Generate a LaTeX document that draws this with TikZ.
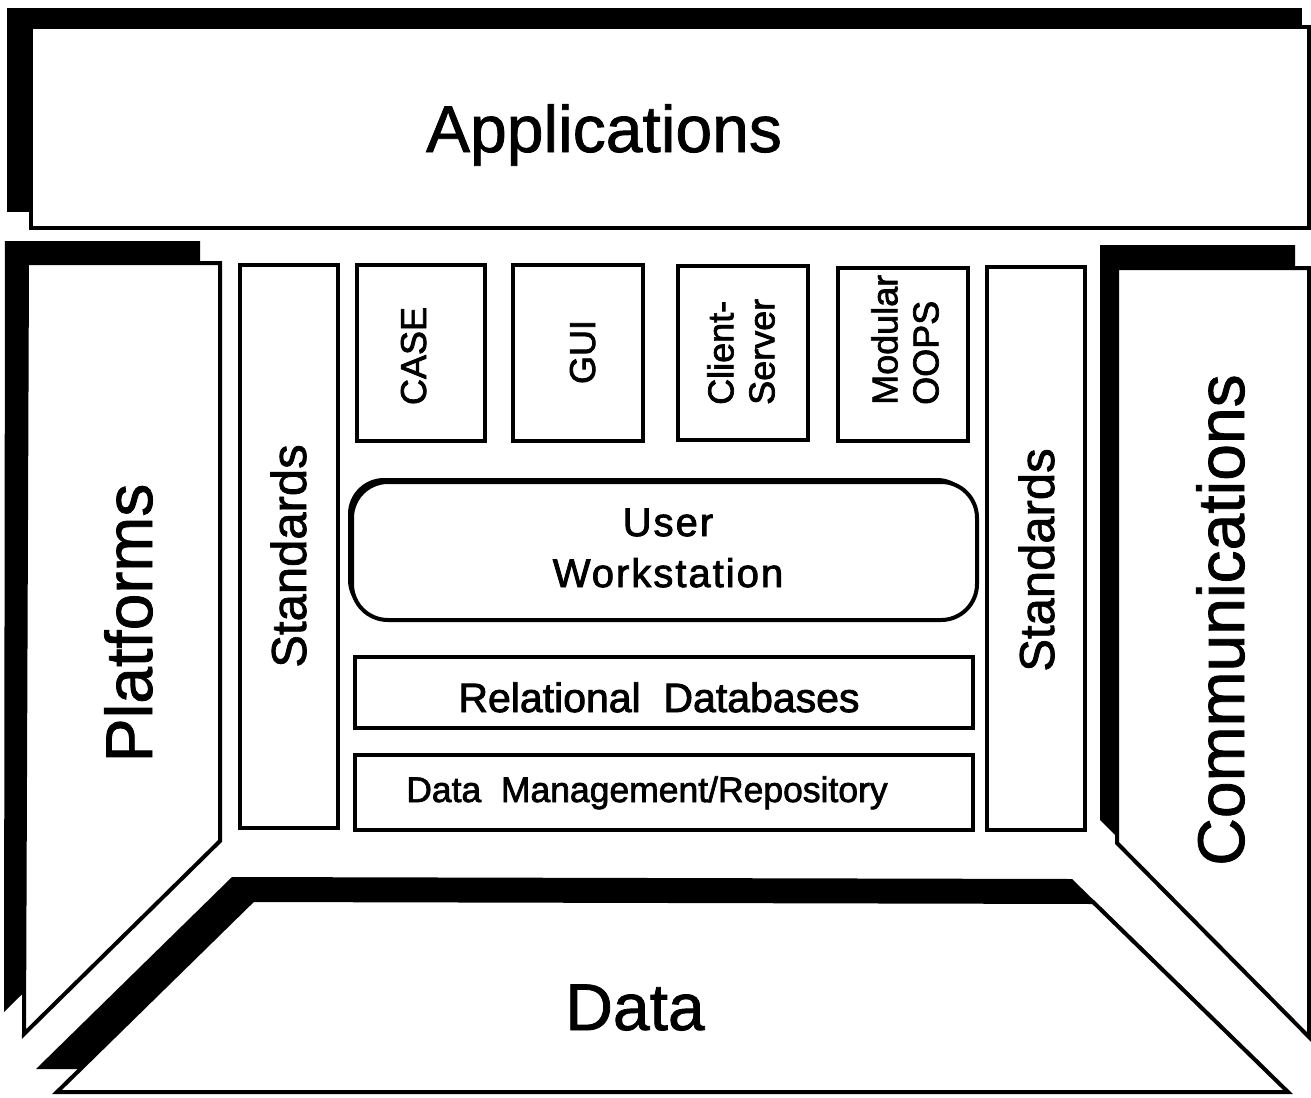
\documentclass[tikz,border=0pt]{standalone}
\usepackage{fontspec}
\setmainfont{Liberation Sans}
\begin{document}
\begin{tikzpicture}[x=1pt,y=-1pt,
  shade/.style={fill=black},
  panel/.style={fill=white,draw=black,line width=4pt,line join=miter},
  box/.style={fill=white,draw=black,line width=4pt},
  huge/.style={inner sep=0pt,font=\fontsize{66}{70}\selectfont\addfontfeature{FakeBold=1.2}},
  stdlbl/.style={inner sep=0pt,rotate=90,anchor=base,font=\fontsize{49}{54}\selectfont\addfontfeature{FakeBold=1.5}},
  small/.style={inner sep=0pt,rotate=90,font=\fontsize{36}{41}\selectfont\addfontfeature{FakeBold=2}},
  mid/.style={inner sep=0pt,anchor=base,font=\fontsize{41}{46}\selectfont\addfontfeature{FakeBold=2}}]
\useasboundingbox[fill=white] (0,0) rectangle (1311,1097);
% Applications
\fill[shade] (7,8) rectangle (1302,212);
\draw[panel] (31,27) rectangle (1309,228);
\node[huge,anchor=base] (app) at (604,152) {Applications};
% Platforms
\fill[shade] (5,241) -- (200,241) -- (200,819) -- (4,1012) -- cycle;
\draw[panel] (27,263) -- (220,263) -- (220,841) -- (24,1034) -- cycle;
\node[huge,rotate=90,anchor=base] (plat) at (152,623) {Platforms};
% Communications
\fill[shade] (1100,245) -- (1295,245) -- (1295,1014) -- (1100,820) -- cycle;
\draw[panel] (1117,268) -- (1309,268) -- (1309,1037) -- (1117,843) -- cycle;
\node[huge,rotate=90,anchor=base] (comm) at (1244,620) {Communications};
% Data
\fill[shade] (232,877) -- (1072,879) -- (1267,1069) -- (36,1069) -- cycle;
\draw[panel] (253,900) -- (1093,902) -- (1288,1092) -- (57,1092) -- cycle;
\node[huge,anchor=base] (data) at (635,1030) {Data};
% Standards
\draw[box] (240,265) rectangle (338,828);
\node[stdlbl] (stdl) at (306,556) {Standards};
\draw[box] (987,267) rectangle (1085,830);
\node[stdlbl] (stdr) at (1054,560) {Standards};
% top boxes
\draw[box] (357,265) rectangle (485,441);
\node[small,anchor=base] (case) at (426,356) {CASE};
\draw[box] (513,265) rectangle (643,441);
\node[small,anchor=base] (gui) at (595,352) {GUI};
\draw[box] (678,266) rectangle (808,440);
\node[small,anchor=west,align=left] (cs) at (741,405) {Client-\\Server};
\draw[box] (838,268) rectangle (968,441);
\node[small,anchor=west,align=left] (mod) at (905,405) {Modular\\OOPS};
% User workstation
\fill[shade,rounded corners=36pt] (348,478) rectangle (973,616);
\draw[box,rounded corners=36pt] (352,482) rectangle (977,620);
\node[inner sep=0pt,align=center,font=\fontsize{40}{51}\selectfont\addfontfeature{LetterSpace=5,FakeBold=2}] (uw) at (668,548) {User\\Workstation};
% Databases
\draw[box] (355,657) rectangle (973,728);
\node[mid] (rdb) at (659,712) {Relational\ \ Databases};
\draw[box] (355,755) rectangle (973,830);
\node[inner sep=0pt,anchor=base,font=\fontsize{35.5}{41}\selectfont\addfontfeature{FakeBold=2}] (dmr) at (647,802) {Data\ \ Management/Repository};
\end{tikzpicture}
\end{document}
